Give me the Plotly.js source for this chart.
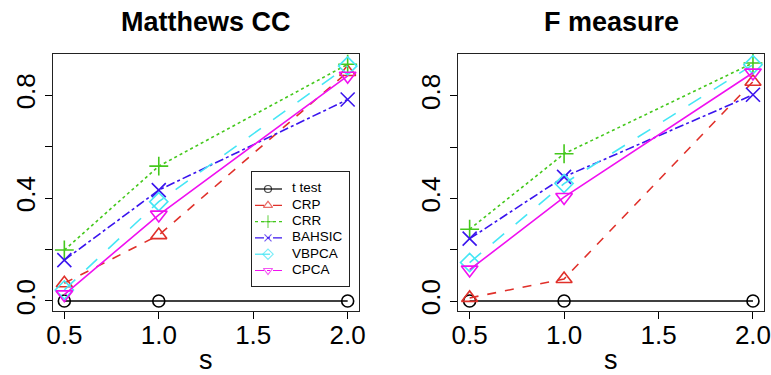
<!DOCTYPE html>
<html>
<head>
<meta charset="utf-8">
<script src="https://cdn.plot.ly/plotly-3.0.1.min.js"></script>
<style>html,body{margin:0;padding:0;background:#fff;}#chart{width:771px;height:375px;}</style>
</head>
<body>
<div id="chart"></div>
<script>
// ---- data ----
const sValues = [0.5, 1.0, 2.0];
const methods = ["t test", "CRP", "CRR", "BAHSIC", "VBPCA", "CPCA"];
// Matthews correlation coefficient
const mccTtest  = [0.0, 0.0, 0.0];
const mccCRP    = [0.069, 0.256, 0.89];
const mccCRR    = [0.198, 0.524, 0.92];
const mccBAHSIC = [0.159, 0.431, 0.783];
const mccVBPCA  = [0.043, 0.386, 0.913];
const mccCPCA   = [0.025, 0.335, 0.875];
// F measure
const fTtest  = [0.0, 0.0, 0.0];
const fCRP    = [0.012, 0.086, 0.855];
const fCRR    = [0.28, 0.574, 0.928];
const fBAHSIC = [0.243, 0.484, 0.804];
const fVBPCA  = [0.15, 0.458, 0.921];
const fCPCA   = [0.122, 0.405, 0.89];
const xTickVals = [0.5, 1.0, 1.5, 2.0];
const xTickText = ["0.5", "1.0", "1.5", "2.0"];
const yTickVals = [0.0, 0.2, 0.4, 0.6, 0.8];
const yTickText = ["0.0", "", "0.4", "", "0.8"];
const panelTitles = ["Matthews CC", "F measure"];
const xLabel = "s";

// ---- styles ----
const styles = [
  {color: "#000000", dash: "solid",    plotDash: "solid",    symbol: "circle-open",        size: 12,   lsize: 7},
  {color: "#e0302a", dash: "dash",     plotDash: "dash",     symbol: "triangle-up-open",   size: 14,   lsize: 8},
  {color: "#44c81c", dash: "dot",      plotDash: "dot",      symbol: "cross-thin-open",    size: 13.5, lsize: 9},
  {color: "#3a14ee", dash: "dashdot",  plotDash: "dashdot",  symbol: "x-thin-open",        size: 14,   lsize: 7},
  {color: "#45e6f5", dash: "longdash", plotDash: "longdash", symbol: "diamond-open",       size: 14,   lsize: 8},
  {color: "#f010f0", dash: "dashdot",  plotDash: "solid",    symbol: "triangle-down-open", size: 14.5, lsize: 8}
];

const mccSeries = [mccTtest, mccCRP, mccCRR, mccBAHSIC, mccVBPCA, mccCPCA];
const fSeries = [fTtest, fCRP, fCRR, fBAHSIC, fVBPCA, fCPCA];

const traces = [];
function addPanel(series, xa, ya) {
  series.forEach((vals, i) => {
    const st = styles[i];
    traces.push({
      x: sValues, y: vals, xaxis: xa, yaxis: ya, type: "scatter", mode: "lines+markers",
      name: methods[i], showlegend: false, cliponaxis: false,
      line: {color: st.color, width: 1.6, dash: st.plotDash},
      marker: {symbol: st.symbol, size: st.size, color: st.color, line: {color: st.color, width: 1.6}}
    });
  });
}
addPanel(mccSeries, "x", "y");
addPanel(fSeries, "x2", "y2");

// ---- legend (drawn in its own small subplot, one row per method) ----
// legend subplot x units are pixels inside the legend box
const legSampleX = [3, 16, 30];
const legTextX = 40;
methods.forEach((m, i) => {
  const st = styles[i];
  traces.push({
    x: legSampleX, y: [i, i, i], xaxis: "x3", yaxis: "y3", type: "scatter", mode: "lines+markers",
    name: m, showlegend: false, hoverinfo: "skip",
    line: {color: st.color, width: 1.2, dash: st.dash},
    marker: {symbol: st.symbol, size: [0, st.lsize, 0], color: st.color, line: {color: st.color, width: 1.2}}
  });
});
traces.push({
  x: methods.map(() => legTextX), y: methods.map((m, i) => i), text: methods,
  xaxis: "x3", yaxis: "y3", type: "scatter", mode: "text", textposition: "middle right",
  textfont: {family: "Liberation Sans, Arial, Helvetica, sans-serif", size: 13.5, color: "#000"},
  showlegend: false, hoverinfo: "skip", cliponaxis: false
});

const fontFam = "Liberation Sans, Arial, Helvetica, sans-serif";
function xAxis(domain, anchor) {
  return {
    domain: domain, anchor: anchor, range: [0.44, 2.06],
    tickvals: xTickVals, ticktext: xTickText,
    ticks: "outside", ticklen: 7, tickwidth: 1, tickcolor: "#000",
    showline: true, linecolor: "#222", linewidth: 1, mirror: true,
    showgrid: false, zeroline: false, automargin: false,
    ticklabeloverflow: "allow", ticklabelstandoff: -6,
    tickfont: {family: fontFam, size: 26, color: "#000"}
  };
}
function yAxis(domain, anchor, range) {
  return {
    domain: domain, anchor: anchor, range: range,
    tickvals: yTickVals, ticktext: yTickText, tickangle: -90,
    ticks: "outside", ticklen: 7, tickwidth: 1, tickcolor: "#000",
    showline: true, linecolor: "#222", linewidth: 1, mirror: true,
    showgrid: false, zeroline: false, automargin: false,
    ticklabeloverflow: "allow",
    tickfont: {family: fontFam, size: 26, color: "#000"}
  };
}
const yDom = [1 - 311 / 375, 1 - 54 / 375];
const legBox = {left: 252, right: 349, top: 172, bottom: 286, firstRow: 17, rowStep: 16.3};
const legH = legBox.bottom - legBox.top;
const panelCentersPx = [206, 611];
function textAnn(text, xPx, yPx, size, weight) {
  return {text: text, xref: "paper", yref: "paper", x: xPx / 771, y: 1 - yPx / 375,
    xanchor: "center", yanchor: "middle", showarrow: false,
    font: {family: fontFam, size: size, color: "#000", weight: weight}};
}
const layout = {
  width: 771, height: 375,
  margin: {l: 0, r: 0, t: 0, b: 0},
  paper_bgcolor: "#fff", plot_bgcolor: "#fff",
  showlegend: false,
  xaxis: xAxis([53 / 771, 359 / 771], "y"),
  yaxis: yAxis(yDom, "x", [-0.039, 0.960]),
  xaxis2: xAxis([458.3 / 771, 764.3 / 771], "y2"),
  yaxis2: yAxis(yDom, "x2", [-0.039, 0.963]),
  xaxis3: {
    domain: [legBox.left / 771, legBox.right / 771], anchor: "y3",
    range: [0, legBox.right - legBox.left],
    showline: true, linecolor: "#222", linewidth: 1, mirror: true,
    showgrid: false, zeroline: false, showticklabels: false, ticks: "", automargin: false
  },
  yaxis3: {
    domain: [1 - legBox.bottom / 375, 1 - legBox.top / 375], anchor: "x3",
    range: [(legH - legBox.firstRow) / legBox.rowStep, -legBox.firstRow / legBox.rowStep],
    showline: true, linecolor: "#222", linewidth: 1, mirror: true,
    showgrid: false, zeroline: false, showticklabels: false, ticks: "", automargin: false
  },
  annotations: [
    textAnn(panelTitles[0], panelCentersPx[0], 22, 27, "bold"),
    textAnn(panelTitles[1], panelCentersPx[1], 22, 27, "bold"),
    textAnn(xLabel, panelCentersPx[0], 360, 27, "normal"),
    textAnn(xLabel, panelCentersPx[1], 360, 27, "normal")
  ]
};
Plotly.newPlot("chart", traces, layout, {displayModeBar: false, staticPlot: true});
</script>
</body>
</html>
